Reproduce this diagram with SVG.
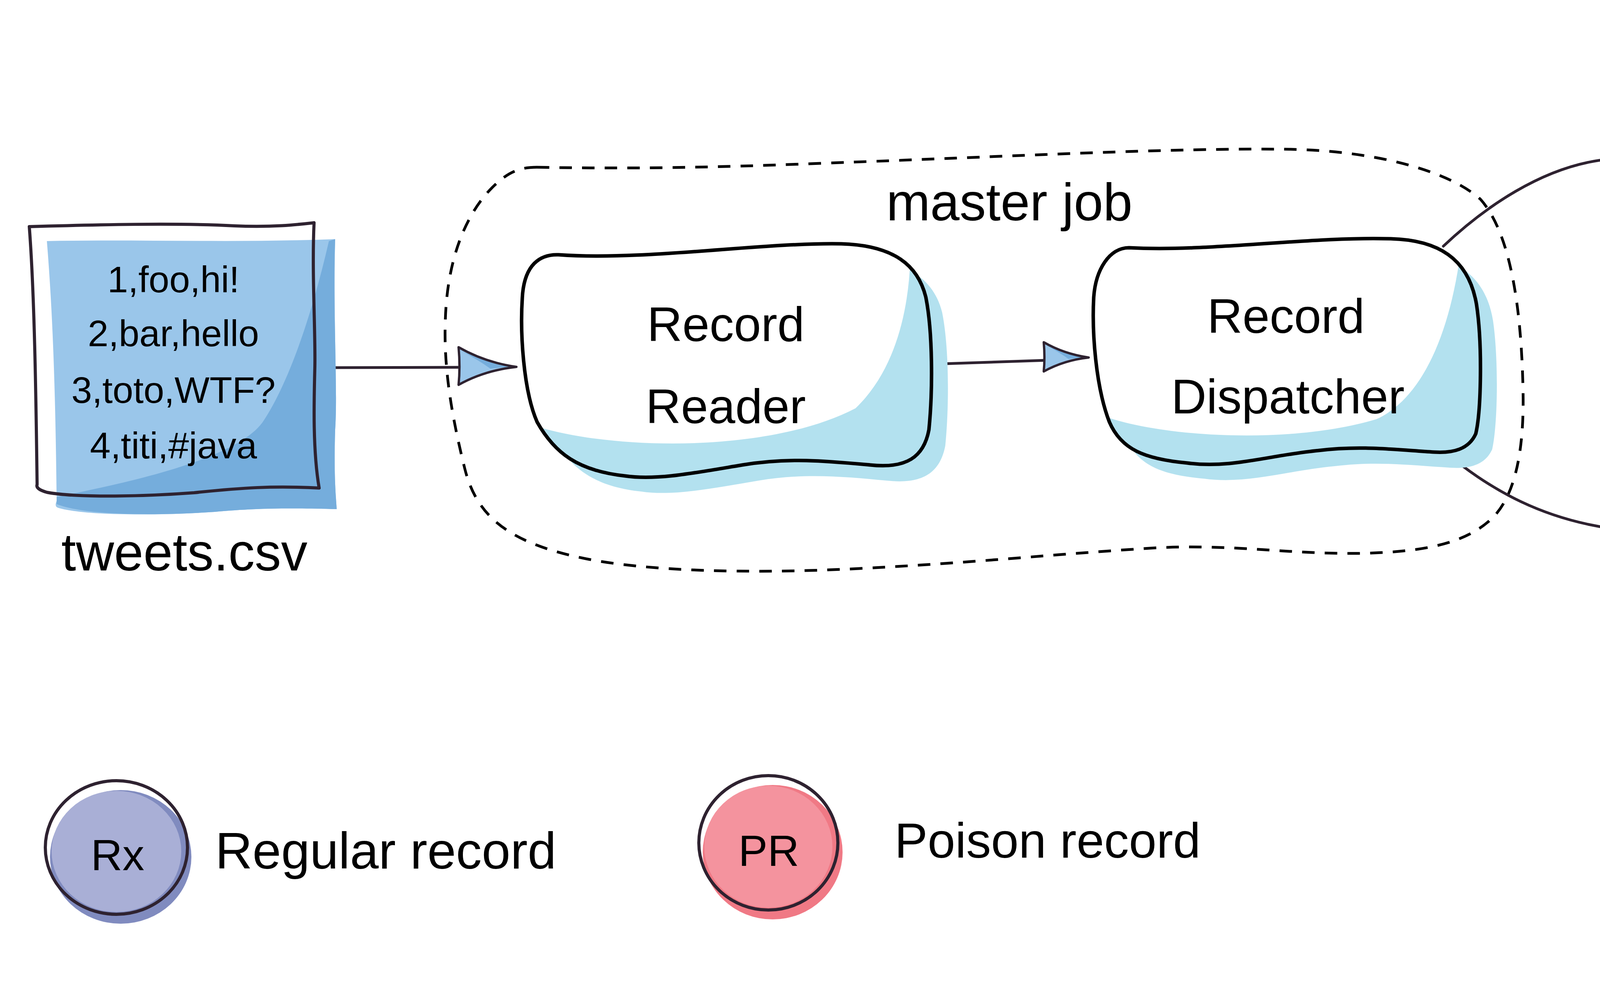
<svg xmlns="http://www.w3.org/2000/svg" xmlns:xlink="http://www.w3.org/1999/xlink" width="7279" height="2526" viewBox="0 0 7279 2526">
<style>
.t{font-family:"Liberation Sans",Arial,sans-serif;fill:#000;text-anchor:middle}
.ts{font-family:"Liberation Sans",Arial,sans-serif;fill:#000;text-anchor:start}
.ln{fill:none;stroke:#2E2230;stroke-width:7;stroke-linecap:round;stroke-linejoin:round}
.bxs{fill:#B3E1EF}
.gxs{fill:#E3EEBA}
.bxw{fill:#fff}
.bxo{fill:none;stroke:#000;stroke-width:9;stroke-linejoin:round}
.dash{fill:none;stroke:#000;stroke-width:7;stroke-dasharray:32 26}
.q{fill:#fff;stroke:#000;stroke-width:11}
.dv{stroke:#000;stroke-width:7}
.rol{fill:none;stroke:#2E2230;stroke-width:8}
.pdk{fill:#F07985}.plt{fill:#F4939E}
.bdk{fill:#808BBF}.blt{fill:#A9AFD6}
</style>
<defs>
<g id="ahB">
<path d="M-100,-34 Q-55,-8 0,0 Q-55,6 -100,31 Q-97,0 -100,-34 Z" fill="#9AC6EA"/>
<path d="M-96,-28 Q-60,-10 -4,-1 L-45,3 Q-66,-12 -96,-28 Z" fill="#75ADDC"/>
<path d="M-100,-34 Q-55,-8 0,0 Q-55,6 -100,31 Q-97,0 -100,-34 Z" fill="none" stroke="#2E2230" stroke-width="6" stroke-linejoin="round" vector-effect="non-scaling-stroke"/>
</g>
<g id="ahG">
<path d="M-100,-34 Q-55,-8 0,0 Q-55,6 -100,31 Q-97,0 -100,-34 Z" fill="#C3DC78"/>
<path d="M-96,-28 Q-60,-10 -4,-1 L-45,3 Q-66,-12 -96,-28 Z" fill="#A9CC50"/>
<path d="M-100,-34 Q-55,-8 0,0 Q-55,6 -100,31 Q-97,0 -100,-34 Z" fill="none" stroke="#2E2230" stroke-width="6" stroke-linejoin="round" vector-effect="non-scaling-stroke"/>
</g>
<path id="pR" d="M1430,652 C1650,668 1950,620 2154,624 C2290,628 2350,680 2370,760 C2388,850 2388,1000 2378,1100 C2365,1170 2320,1200 2228,1190 C2120,1180 2020,1170 1900,1190 C1780,1210 1680,1230 1600,1218 C1480,1205 1420,1160 1375,1080 C1340,1000 1330,850 1338,750 C1345,680 1380,650 1430,652 Z"/>
<path id="pD" d="M2890,634 C3100,645 3350,605 3560,611 C3680,614 3760,660 3780,780 C3795,880 3792,1050 3778,1110 C3760,1150 3720,1160 3671,1157 C3560,1150 3480,1140 3375,1153 C3250,1165 3150,1200 3040,1185 C2930,1175 2870,1150 2840,1080 C2805,990 2795,850 2800,760 C2805,690 2840,634 2890,634 Z"/>
<path id="pW1" d="M6081,136 C6300,150 6550,108 6760,111 C6870,112 6940,160 6965,240 C6985,330 6985,500 6975,590 C6965,640 6940,665 6880,660 C6800,655 6700,645 6614,654 C6500,665 6380,695 6259,687 C6150,680 6080,650 6050,590 C6005,500 5995,350 6000,250 C6005,180 6030,136 6081,136 Z"/>
<path id="pW2" d="M6123,1074 C6350,1085 6650,1050 6865,1053 C6940,1055 6990,1100 7010,1180 C7030,1280 7030,1450 7020,1540 C7010,1590 6980,1605 6930,1600 C6850,1595 6780,1585 6698,1592 C6560,1605 6430,1630 6300,1625 C6180,1620 6110,1590 6080,1520 C6030,1420 6030,1300 6040,1200 C6050,1120 6075,1074 6123,1074 Z"/>
<clipPath id="cR"><use xlink:href="#pR"/></clipPath>
<clipPath id="cD"><use xlink:href="#pD"/></clipPath>
<clipPath id="cW1"><use xlink:href="#pW1"/></clipPath>
<clipPath id="cW2"><use xlink:href="#pW2"/></clipPath>
</defs>
<rect width="7279" height="2526" fill="#fff"/>

<g id="master-job">
<path class="dash" d="M1374,428 C1600,432 1800,430 2100,418 C2600,400 3000,378 3300,382 C3500,385 3700,430 3790,510 C3870,600 3895,800 3899,1000 C3902,1150 3880,1260 3827,1319 C3760,1390 3650,1412 3491,1416 C3300,1420 3150,1390 2944,1403 C2700,1418 2500,1440 2200,1455 C1900,1470 1650,1460 1500,1430 C1300,1390 1220,1320 1190,1200 C1160,1080 1135,950 1140,820 C1145,650 1200,540 1260,480 C1300,440 1330,428 1374,428 Z"/>
<text class="t" x="2584" y="564" font-size="135">master job</text>
</g>

<g id="connectors">
<line class="ln" x1="813" y1="941" x2="1190" y2="940" stroke-width="6"/>
<line class="ln" x1="2385" y1="932" x2="2680" y2="922" stroke-width="8"/>
<path class="ln" stroke-width="6" d="M3695,630 C3790,540 3950,420 4125,407"/>
<path class="ln" stroke-width="6" d="M3695,1154 C3800,1240 3950,1345 4200,1360"/>
<line class="ln" x1="5589" y1="420" x2="5875" y2="420" stroke-width="8"/>
<line class="ln" x1="5600" y1="1364" x2="5910" y2="1361" stroke-width="8"/>
<use xlink:href="#ahB" transform="translate(1322,939) scale(1.48)"/>
<use xlink:href="#ahB" transform="translate(2787,915) scale(1.15)"/>
<use xlink:href="#ahB" transform="translate(4309,415) scale(1.92)"/>
<use xlink:href="#ahB" transform="translate(4347,1356) scale(1.55)"/>
<use xlink:href="#ahG" transform="translate(5976,420) scale(1.09,1.15)"/>
<use xlink:href="#ahG" transform="translate(6018,1360) scale(1.15,1.2)"/>
</g>

<g id="tweets-csv">
<path fill="#fff" d="M75,580 C250,575 450,570 600,578 C700,582 760,575 804,570 C798,700 808,850 806,940 C804,1020 800,1150 817,1249 C700,1243 620,1248 497,1261 C380,1270 200,1275 120,1260 C100,1254 92,1248 95,1240 C92,1000 88,750 75,580 Z"/>
<path fill="#9AC6EA" d="M120,617 C350,612 600,622 858,612 C852,800 865,1000 858,1100 C855,1200 858,1250 862,1303 C740,1300 660,1300 550,1310 C400,1320 220,1320 150,1300 C140,1297 142,1290 145,1282 C142,1000 135,800 120,617 Z"/>
<path fill="#75ADDC" d="M842,617 C800,800 740,980 672,1081 C600,1180 300,1240 145,1272 L145,1290 C220,1320 400,1320 550,1310 C660,1300 740,1300 862,1303 C858,1250 855,1200 858,1100 C865,1000 852,800 858,612 Z"/>
<path fill="none" stroke="#2E2230" stroke-width="8" stroke-linejoin="round" d="M75,580 C250,575 450,570 600,578 C700,582 760,575 804,570 C798,700 808,850 806,940 C804,1020 800,1150 817,1249 C700,1243 620,1248 497,1261 C380,1270 200,1275 120,1260 C100,1254 92,1248 95,1240 C92,1000 88,750 75,580 Z"/>
<text class="t" x="444" y="748" font-size="95">1,foo,hi!</text>
<text class="t" x="444" y="886" font-size="95">2,bar,hello</text>
<text class="t" x="444" y="1031" font-size="95">3,toto,WTF?</text>
<text class="t" x="444" y="1173" font-size="95">4,titi,#java</text>
<text class="t" x="472" y="1460" font-size="135">tweets.csv</text>
</g>

<g id="record-reader">
<use xlink:href="#pR" class="bxs" transform="translate(42,40)"/>
<use xlink:href="#pR" class="bxw"/>
<path class="bxs" clip-path="url(#cR)" d="M1330,1075 C1500,1150 1950,1170 2190,1045 C2290,950 2325,800 2330,670 L2330,600 L2500,600 L2500,1300 L1300,1300 Z"/>
<use xlink:href="#pR" class="bxo"/>
<text class="t" x="1858" y="873" font-size="125">Record</text>
<text class="t" x="1858" y="1083" font-size="125">Reader</text>
</g>

<g id="record-dispatcher">
<use xlink:href="#pD" class="bxs" transform="translate(42,40)"/>
<use xlink:href="#pD" class="bxw"/>
<path class="bxs" clip-path="url(#cD)" d="M2800,1055 C2950,1120 3300,1140 3523,1073 C3620,1030 3700,900 3735,673 L3735,600 L3900,600 L3900,1300 L2750,1300 Z"/>
<use xlink:href="#pD" class="bxo"/>
<text class="t" x="3292" y="852" font-size="125">Record</text>
<text class="t" x="3297" y="1058" font-size="125">Dispatcher</text>
</g>

<g id="queue-1">
<rect class="q" x="4324" y="189" width="1259" height="462" rx="120" ry="135"/>
<line class="dv" x1="4742" y1="189" x2="4742" y2="651"/>
<line class="dv" x1="5165" y1="189" x2="5165" y2="651"/>
<ellipse class="pdk" cx="4547" cy="427" rx="181" ry="171"/>
<ellipse class="plt" cx="4536" cy="413" rx="166" ry="155"/>
<ellipse class="rol" cx="4538" cy="403" rx="180" ry="170"/>
<text class="t" x="4540" y="462" font-size="112">PR</text>
<ellipse class="bdk" cx="4959" cy="432" rx="181" ry="171"/>
<ellipse class="blt" cx="4948" cy="418" rx="166" ry="155"/>
<ellipse class="rol" cx="4950" cy="408" rx="180" ry="170"/>
<text class="t" x="4952" y="467" font-size="112">R3</text>
<ellipse class="bdk" cx="5384" cy="432" rx="181" ry="171"/>
<ellipse class="blt" cx="5373" cy="418" rx="166" ry="155"/>
<ellipse class="rol" cx="5375" cy="408" rx="180" ry="170"/>
<text class="t" x="5377" y="467" font-size="112">R1</text>
<text class="t" x="5004" y="807" font-size="130">Queue 1</text>
</g>

<g id="queue-2">
<rect class="q" x="4360" y="1128" width="1254" height="462" rx="120" ry="135"/>
<line class="dv" x1="4778" y1="1128" x2="4778" y2="1590"/>
<line class="dv" x1="5198" y1="1128" x2="5198" y2="1590"/>
<ellipse class="pdk" cx="4572" cy="1376" rx="181" ry="171"/>
<ellipse class="plt" cx="4561" cy="1362" rx="166" ry="155"/>
<ellipse class="rol" cx="4563" cy="1352" rx="180" ry="170"/>
<text class="t" x="4565" y="1410" font-size="112">PR</text>
<ellipse class="bdk" cx="4992" cy="1369" rx="181" ry="171"/>
<ellipse class="blt" cx="4981" cy="1355" rx="166" ry="155"/>
<ellipse class="rol" cx="4983" cy="1345" rx="180" ry="170"/>
<text class="t" x="4985" y="1405" font-size="112">R4</text>
<ellipse class="bdk" cx="5412" cy="1375" rx="181" ry="171"/>
<ellipse class="blt" cx="5401" cy="1361" rx="166" ry="155"/>
<ellipse class="rol" cx="5403" cy="1351" rx="180" ry="170"/>
<text class="t" x="5405" y="1410" font-size="112">R2</text>
<text class="t" x="5008" y="1776" font-size="130">Queue 2</text>
</g>

<g id="worker-1">
<use xlink:href="#pW1" class="gxs" transform="translate(45,38)"/>
<use xlink:href="#pW1" class="bxw"/>
<path class="gxs" clip-path="url(#cW1)" d="M6030,555 C6150,620 6500,640 6781,549 C6880,450 6920,300 6930,170 L6930,100 L7100,100 L7100,800 L5990,800 Z"/>
<use xlink:href="#pW1" class="bxo"/>
<text class="t" x="6478" y="452" font-size="135">Worker 1</text>
</g>

<g id="worker-2">
<use xlink:href="#pW2" class="gxs" transform="translate(44,40)"/>
<use xlink:href="#pW2" class="bxw"/>
<path class="gxs" clip-path="url(#cW2)" d="M6070,1495 C6200,1560 6550,1580 6813,1486 C6920,1380 6960,1250 6969,1115 L6969,1040 L7100,1040 L7100,1700 L6000,1700 Z"/>
<use xlink:href="#pW2" class="bxo"/>
<text class="t" x="6524" y="1391" font-size="135">Worker 2</text>
</g>

<g id="legend-regular">
<ellipse class="bdk" cx="309" cy="2193" rx="181" ry="171"/>
<ellipse class="blt" cx="298" cy="2179" rx="166" ry="155"/>
<ellipse class="rol" cx="298" cy="2169" rx="182" ry="171"/>
<text class="t" x="301" y="2227" font-size="112">Rx</text>
<text class="ts" x="551" y="2223" font-size="132">Regular record</text>
</g>

<g id="legend-poison">
<ellipse class="pdk" cx="1978" cy="2181" rx="179" ry="172"/>
<ellipse class="plt" cx="1967" cy="2167" rx="164" ry="156"/>
<ellipse class="rol" cx="1967" cy="2157" rx="178" ry="172"/>
<text class="t" x="1968" y="2216" font-size="112">PR</text>
<text class="ts" x="2290" y="2195" font-size="127">Poison record</text>
</g>
</svg>
